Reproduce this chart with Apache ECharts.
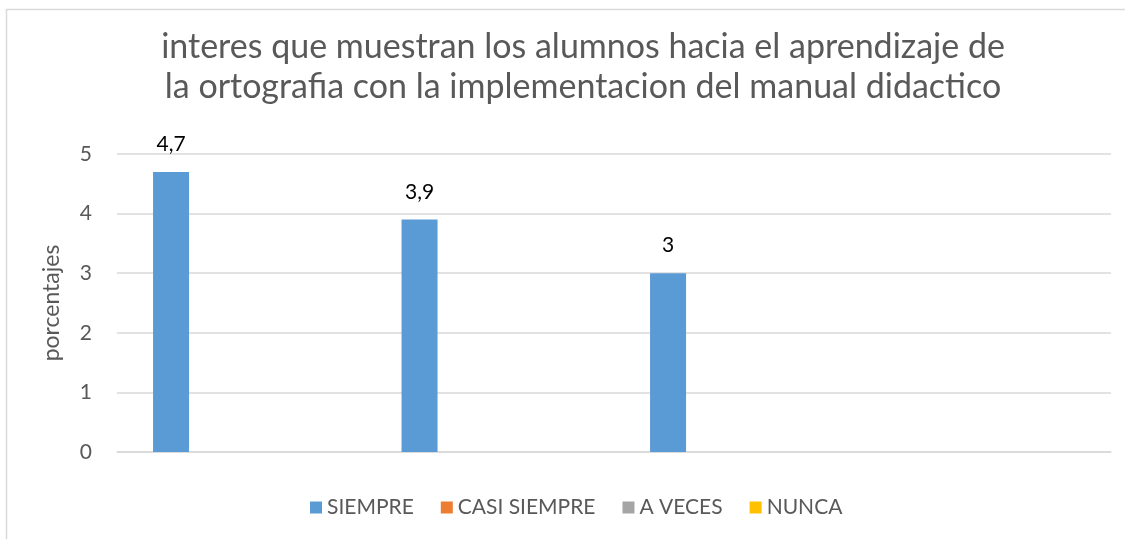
<!DOCTYPE html>
<html>
<head>
<meta charset="utf-8">
<script src="https://cdn.jsdelivr.net/npm/echarts@6/dist/echarts.min.js"></script>
<style>
    html, body { margin: 0; padding: 0; background: #fff; }
    #chart { width: 1125px; height: 539px; }
</style>
</head>
<body>
<div id="chart"></div>
<script>
// datos
const titulo = 'interes que muestran los alumnos hacia el aprendizaje de\nla ortografia con la implementacion del manual didactico'
const categorias = ['1', '2', '3', '4']
const siempre = [4.7, 3.9, 3, null]
const casiSiempre = [null, null, null, null]
const aVeces = [null, null, null, null]
const nunca = [null, null, null, null]
const yTicks = [0, 1, 2, 3, 4, 5]

const fuente = 'Lato'
const gris = '#595959'

const chart = echarts.init(document.getElementById('chart'))

function serie(name, data, color) {
    return {
        name: name,
        type: 'bar',
        data: data,
        barWidth: 36,
        barGap: '30%',
        itemStyle: { color: color },
        label: {
            show: true,
            position: 'top',
            distance: 17,
            color: '#000',
            fontFamily: fuente,
            fontSize: 21,
            formatter: (p) => String(p.value).replace('.', ',')
        }
    }
}

const option = {
    animation: false,
    title: {
        text: titulo,
        left: 578,
        textAlign: 'center',
        top: 22,
        textStyle: {
            fontFamily: fuente,
            fontSize: 34,
            fontWeight: 'normal',
            color: gris,
            lineHeight: 40
        }
    },
    legend: {
        bottom: 16,
        left: 305,
        itemWidth: 12,
        itemHeight: 12,
        itemGap: 27,
        icon: 'rect',
        textStyle: { fontFamily: fuente, fontSize: 21, color: gris }
    },
    grid: {
        left: 117,
        right: 14,
        top: 154,
        bottom: 87,
        containLabel: false
    },
    xAxis: {
        type: 'category',
        data: categorias,
        axisLine: { show: true, lineStyle: { color: '#d9d9d9', width: 1.5 } },
        axisTick: { show: false },
        axisLabel: { show: false }
    },
    yAxis: {
        type: 'value',
        min: yTicks[0],
        max: yTicks[yTicks.length - 1],
        interval: 1,
        name: 'porcentajes',
        nameLocation: 'middle',
        nameGap: 54,
        nameTextStyle: { fontFamily: fuente, fontSize: 23, color: gris },
        axisLine: { show: false },
        axisTick: { show: false },
        axisLabel: { fontFamily: fuente, fontSize: 21, color: gris, margin: 25 },
        splitLine: { lineStyle: { color: '#d9d9d9', width: 1.5 } }
    },
    graphic: [
        {
            type: 'rect',
            shape: { x: 6.5, y: 9.5, width: 1300, height: 700 },
            style: { fill: null, stroke: '#d9d9d9', lineWidth: 1.5 },
            silent: true
        }
    ],
    series: [
        serie('SIEMPRE', siempre, '#5B9BD5'),
        serie('CASI SIEMPRE', casiSiempre, '#ED7D31'),
        serie('A VECES', aVeces, '#A5A5A5'),
        serie('NUNCA', nunca, '#FFC000')
    ]
}

chart.setOption(option)
</script>
</body>
</html>
